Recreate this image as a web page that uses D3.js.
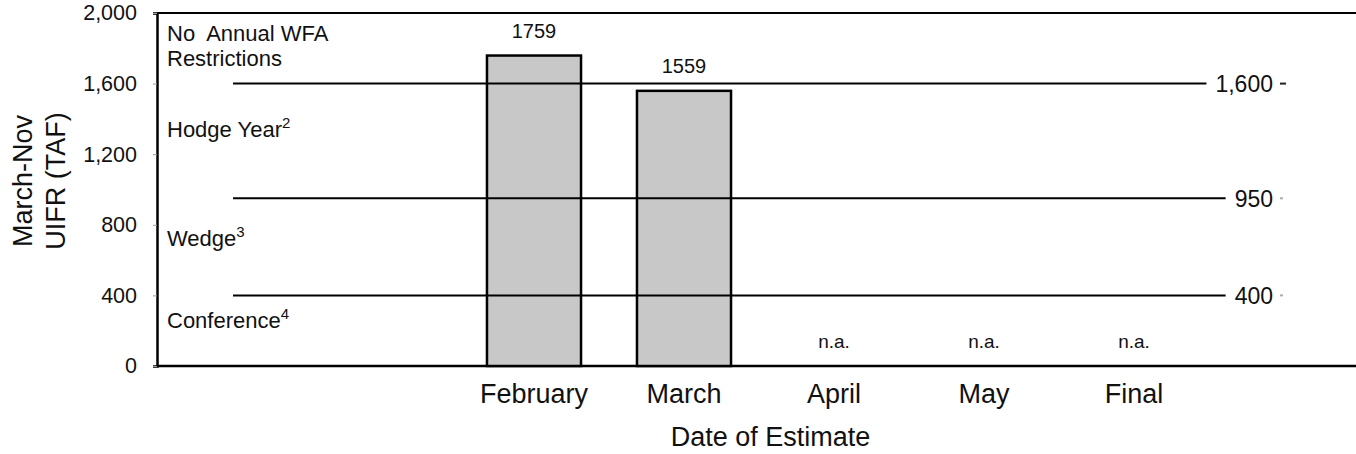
<!DOCTYPE html>
<html>
<head>
<meta charset="utf-8">
<script src="https://cdn.jsdelivr.net/npm/d3@7"></script>
<style>
  body { margin: 0; background: #fff; }
  svg { display: block; font-family: "Liberation Sans", Arial, sans-serif; }
</style>
</head>
<body>
<svg id="chart"></svg>
<script>
// categories and values
const months = ["February", "March", "April", "May", "Final"];
const uifr = [1759, 1559, null, null, null];
// WFA restriction thresholds (TAF)
const thresholds = [1600, 950, 400];
const thresholdLabels = ["1,600", "950", "400"];
// zone names, from the top zone downward
const zoneNames = ["No  Annual WFA|Restrictions", "Hodge Year", "Wedge", "Conference"];
const zoneNotes = ["", "2", "3", "4"];
const yTicks = [0, 400, 800, 1200, 1600, 2000];

const width = 1356, height = 454;
const margin = { top: 13, right: 0, bottom: 88, left: 157 };

const svg = d3.select("#chart")
    .attr("width", width)
    .attr("height", height);

const y = d3.scaleLinear()
    .domain([0, 2000])
    .range([height - margin.bottom, margin.top]);

// 5 bands of 150px each, starting two bands to the right of the axis
const x = d3.scaleBand()
    .domain(months)
    .range([459, 1209])
    .paddingInner(0.373)
    .paddingOuter(0.1865);

// left axis
const yAxis = svg.append("g")
    .attr("transform", `translate(${margin.left},0)`)
    .call(d3.axisLeft(y).tickValues(yTicks).tickFormat(d3.format(",")).tickSize(4).tickPadding(16));
yAxis.select(".domain").attr("stroke", "#000").attr("stroke-width", 2.5);
yAxis.selectAll(".tick line").attr("stroke", "#999");
yAxis.selectAll(".tick text").attr("font-size", 21.5).attr("fill", "#111");

// top and bottom frame lines
svg.append("line")
    .attr("x1", margin.left).attr("x2", width)
    .attr("y1", y(2000)).attr("y2", y(2000))
    .attr("stroke", "#000").attr("stroke-width", 2);
svg.append("line")
    .attr("x1", margin.left).attr("x2", width)
    .attr("y1", y(0)).attr("y2", y(0))
    .attr("stroke", "#000").attr("stroke-width", 2.5);

// bars
svg.append("g").selectAll("rect")
    .data(months.map((m, i) => ({ month: m, value: uifr[i] })).filter(d => d.value != null))
    .join("rect")
    .attr("x", d => x(d.month))
    .attr("y", d => y(d.value))
    .attr("width", x.bandwidth())
    .attr("height", d => y(0) - y(d.value))
    .attr("fill", "#c8c8c8")
    .attr("stroke", "#000")
    .attr("stroke-width", 2.5);

// threshold lines with their labels on the right
const labelEnd = 1273;
const thr = svg.append("g").selectAll("g")
    .data(thresholds.map((t, i) => ({ value: t, label: thresholdLabels[i] })))
    .join("g");
thr.append("text")
    .attr("x", labelEnd)
    .attr("y", d => y(d.value))
    .attr("dy", "0.36em")
    .attr("text-anchor", "end")
    .attr("font-size", 23)
    .attr("fill", "#111")
    .text(d => d.label);
thr.append("line")
    .attr("x1", 233)
    .attr("x2", function (d) {
        return labelEnd - this.parentNode.querySelector("text").getComputedTextLength() - 9;
    })
    .attr("y1", d => y(d.value))
    .attr("y2", d => y(d.value))
    .attr("stroke", "#000")
    .attr("stroke-width", 2);
// little marks right of the labels
thr.append("line")
    .attr("x1", 1280).attr("x2", (d, i) => i === 0 ? 1286 : 1283)
    .attr("y1", d => y(d.value)).attr("y2", d => y(d.value))
    .attr("stroke", (d, i) => i === 0 ? "#222" : "#aaa")
    .attr("stroke-width", 2);

// zone names: each sits just under the upper edge of its zone
const zoneTops = [2000].concat(thresholds);
const zoneOffsets = [28, 53, 48, 33];
zoneNames.forEach((name, i) => {
    const lines = name.split("|");
    const t = svg.append("text")
        .attr("x", 167)
        .attr("y", y(zoneTops[i]) + zoneOffsets[i])
        .attr("font-size", 22)
        .attr("fill", "#111")
        .style("white-space", "pre");
    lines.forEach((ln, j) => {
        t.append("tspan").attr("x", 167).attr("dy", j === 0 ? 0 : 25).text(ln);
    });
    if (zoneNotes[i]) {
        t.append("tspan").attr("font-size", 15).attr("dy", -9).text(zoneNotes[i]);
    }
});

// value labels and n.a.
svg.append("g").selectAll("text")
    .data(months.map((m, i) => ({ month: m, value: uifr[i] })))
    .join("text")
    .attr("x", d => x(d.month) + x.bandwidth() / 2)
    .attr("y", d => d.value != null ? y(d.value) - 18 : y(0) - 18)
    .attr("text-anchor", "middle")
    .attr("font-size", d => d.value != null ? 20 : 19)
    .attr("fill", "#111")
    .text(d => d.value != null ? d.value : "n.a.");

// x category labels
svg.append("g").selectAll("text")
    .data(months)
    .join("text")
    .attr("x", d => x(d) + x.bandwidth() / 2)
    .attr("y", 403)
    .attr("text-anchor", "middle")
    .attr("font-size", 27)
    .attr("fill", "#111")
    .text(d => d);

// axis titles
svg.append("text")
    .attr("x", (margin.left + width) / 2 + 14)
    .attr("y", 446)
    .attr("text-anchor", "middle")
    .attr("font-size", 27)
    .attr("fill", "#111")
    .text("Date of Estimate");

const yTitle = svg.append("text")
    .attr("transform", "translate(32,181) rotate(-90)")
    .attr("text-anchor", "middle")
    .attr("font-size", 27)
    .attr("fill", "#111");
yTitle.append("tspan").attr("x", 0).attr("dy", 0).text("March-Nov");
yTitle.append("tspan").attr("x", 0).attr("dy", 33).text("UIFR (TAF)");
</script>
</body>
</html>
